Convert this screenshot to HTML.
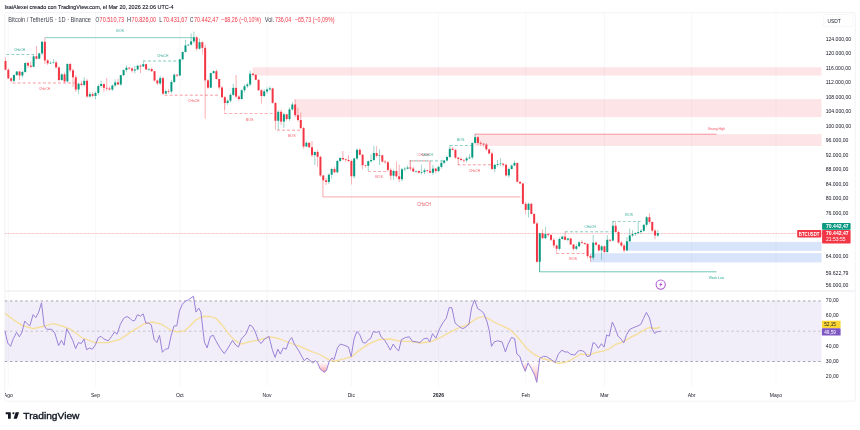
<!DOCTYPE html><html><head><meta charset="utf-8"><title>BTCUSDT chart</title><style>html,body{margin:0;padding:0;background:#fff;width:860px;height:430px;overflow:hidden}svg{display:block;filter:blur(0.25px)}text{font-family:"Liberation Sans",Arial,sans-serif}</style></head><body>
<svg width="860" height="430" viewBox="0 0 860 430">
<rect x="0" y="0" width="860" height="430" fill="#ffffff"/>
<rect x="4.75" y="12.6" width="850.6" height="388.6" fill="none" stroke="#eceef2" stroke-width="0.7" rx="1.5"/>
<line x1="8.31" y1="13" x2="8.31" y2="386" stroke="#f1f2f5" stroke-width="0.6"/>
<line x1="95.48" y1="13" x2="95.48" y2="386" stroke="#f1f2f5" stroke-width="0.6"/>
<line x1="179.84" y1="13" x2="179.84" y2="386" stroke="#f1f2f5" stroke-width="0.6"/>
<line x1="267.02" y1="13" x2="267.02" y2="386" stroke="#f1f2f5" stroke-width="0.6"/>
<line x1="351.38" y1="13" x2="351.38" y2="386" stroke="#f1f2f5" stroke-width="0.6"/>
<line x1="438.55" y1="13" x2="438.55" y2="386" stroke="#f1f2f5" stroke-width="0.6"/>
<line x1="525.72" y1="13" x2="525.72" y2="386" stroke="#f1f2f5" stroke-width="0.6"/>
<line x1="604.46" y1="13" x2="604.46" y2="386" stroke="#f1f2f5" stroke-width="0.6"/>
<line x1="691.63" y1="13" x2="691.63" y2="386" stroke="#f1f2f5" stroke-width="0.6"/>
<line x1="775.99" y1="13" x2="775.99" y2="386" stroke="#f1f2f5" stroke-width="0.6"/>
<line x1="5" y1="291" x2="855" y2="291" stroke="#f0f1f4" stroke-width="1.5"/>
<rect x="252.5" y="67.3" width="569" height="8.3" fill="#f23645" fill-opacity="0.135"/>
<rect x="294.8" y="99.1" width="526.7" height="18" fill="#f23645" fill-opacity="0.135"/>
<rect x="474.5" y="134.2" width="347" height="11.8" fill="#f23645" fill-opacity="0.135"/>
<rect x="627.7" y="241.9" width="193.8" height="8.9" fill="#296ee6" fill-opacity="0.19"/>
<rect x="590.3" y="253.2" width="231.2" height="9.2" fill="#296ee6" fill-opacity="0.19"/>
<line x1="5" y1="233.5" x2="821.5" y2="233.5" stroke="#f23645" stroke-width="0.5" stroke-dasharray="0.8 0.8" opacity="0.8"/>
<line x1="44.7" y1="37.7" x2="193.5" y2="37.7" stroke="#089981" stroke-width="0.8" opacity="0.6"/>
<line x1="6.3" y1="54.6" x2="33.5" y2="54.6" stroke="#089981" stroke-width="0.6" stroke-dasharray="2.9 2.15" stroke-dashoffset="0" opacity="0.85"/>
<line x1="143" y1="61" x2="182" y2="61" stroke="#089981" stroke-width="0.6" stroke-dasharray="2.9 2.15" stroke-dashoffset="0" opacity="0.85"/>
<line x1="12.6" y1="83" x2="76.4" y2="83" stroke="#f23645" stroke-width="0.6" stroke-dasharray="2.9 2.15" stroke-dashoffset="0" opacity="0.85"/>
<line x1="164.6" y1="95.2" x2="219.9" y2="95.2" stroke="#f23645" stroke-width="0.6" stroke-dasharray="2.9 2.15" stroke-dashoffset="0" opacity="0.85"/>
<line x1="224.3" y1="113.3" x2="273.6" y2="113.3" stroke="#f23645" stroke-width="0.6" stroke-dasharray="2.9 2.15" stroke-dashoffset="0" opacity="0.85"/>
<line x1="224.3" y1="103" x2="224.3" y2="113.3" stroke="#f23645" stroke-width="0.5" opacity="0.5"/>
<line x1="277" y1="130.2" x2="300" y2="130.2" stroke="#f23645" stroke-width="0.6" stroke-dasharray="2.9 2.15" stroke-dashoffset="0" opacity="0.85"/>
<line x1="322.9" y1="196.9" x2="520.5" y2="196.9" stroke="#f23645" stroke-width="0.7" opacity="0.6"/>
<line x1="322.9" y1="181" x2="322.9" y2="196.9" stroke="#f23645" stroke-width="0.7" opacity="0.6"/>
<line x1="368" y1="171.3" x2="386" y2="171.3" stroke="#f23645" stroke-width="0.6" stroke-dasharray="2.9 2.15" stroke-dashoffset="0" opacity="0.85"/>
<line x1="409.8" y1="160.9" x2="444" y2="160.9" stroke="#089981" stroke-width="0.6" stroke-dasharray="2.9 2.15" stroke-dashoffset="0" opacity="0.85"/>
<line x1="409.8" y1="160.9" x2="429.3" y2="160.9" stroke="#f23645" stroke-width="0.6" stroke-dasharray="2.9 2.15" stroke-dashoffset="2.5" opacity="0.85"/>
<line x1="409.8" y1="160.9" x2="409.8" y2="168" stroke="#f23645" stroke-width="0.5" opacity="0.5"/>
<line x1="429.3" y1="160.9" x2="429.3" y2="171.7" stroke="#f23645" stroke-width="0.5" opacity="0.5"/>
<line x1="449.8" y1="145.6" x2="471" y2="145.6" stroke="#089981" stroke-width="0.6" stroke-dasharray="2.9 2.15" stroke-dashoffset="0" opacity="0.85"/>
<line x1="457.7" y1="164.8" x2="492.6" y2="164.8" stroke="#f23645" stroke-width="0.6" stroke-dasharray="2.9 2.15" stroke-dashoffset="0" opacity="0.85"/>
<line x1="474.5" y1="134.2" x2="716.6" y2="134.2" stroke="#f23645" stroke-width="0.7" opacity="0.7"/>
<line x1="556.4" y1="253.4" x2="585.4" y2="253.4" stroke="#f23645" stroke-width="0.6" stroke-dasharray="2.9 2.15" stroke-dashoffset="0" opacity="0.85"/>
<line x1="556.4" y1="250" x2="556.4" y2="253.4" stroke="#f23645" stroke-width="0.5" opacity="0.5"/>
<line x1="565" y1="231.8" x2="611.4" y2="231.8" stroke="#089981" stroke-width="0.6" stroke-dasharray="2.9 2.15" stroke-dashoffset="0" opacity="0.85"/>
<line x1="612.8" y1="221.3" x2="640.6" y2="221.3" stroke="#089981" stroke-width="0.6" stroke-dasharray="2.9 2.15" stroke-dashoffset="0" opacity="0.85"/>
<line x1="612.8" y1="221.3" x2="612.8" y2="223" stroke="#089981" stroke-width="0.5" opacity="0.5"/>
<line x1="539.4" y1="271.8" x2="716.6" y2="271.8" stroke="#089981" stroke-width="0.7" opacity="0.8"/>
<line x1="539.4" y1="262" x2="539.4" y2="271.8" stroke="#089981" stroke-width="0.7" opacity="0.8"/>
<line x1="5.5" y1="57.5" x2="5.5" y2="70.29" stroke="#f23645" stroke-width="0.55" opacity="0.75"/>
<rect x="4.5" y="61" width="2" height="8.7" fill="#f23645"/>
<line x1="8.31" y1="68.16" x2="8.31" y2="78.84" stroke="#f23645" stroke-width="0.55" opacity="0.75"/>
<rect x="7.31" y="69.7" width="2" height="8.7" fill="#f23645"/>
<line x1="11.12" y1="77.08" x2="11.12" y2="82.5" stroke="#f23645" stroke-width="0.55" opacity="0.75"/>
<rect x="10.12" y="78.4" width="2" height="2.4" fill="#f23645"/>
<line x1="13.94" y1="74.59" x2="13.94" y2="82.06" stroke="#089981" stroke-width="0.55" opacity="0.75"/>
<rect x="12.94" y="75" width="2" height="5.8" fill="#089981"/>
<line x1="16.75" y1="71.13" x2="16.75" y2="76.12" stroke="#089981" stroke-width="0.55" opacity="0.75"/>
<rect x="15.75" y="71.5" width="2" height="3.5" fill="#089981"/>
<line x1="19.56" y1="71.07" x2="19.56" y2="80" stroke="#f23645" stroke-width="0.55" opacity="0.75"/>
<rect x="18.56" y="71.5" width="2" height="4" fill="#f23645"/>
<line x1="22.37" y1="70.89" x2="22.37" y2="77.37" stroke="#089981" stroke-width="0.55" opacity="0.75"/>
<rect x="21.37" y="72" width="2" height="3.5" fill="#089981"/>
<line x1="25.18" y1="62.46" x2="25.18" y2="72.72" stroke="#089981" stroke-width="0.55" opacity="0.75"/>
<rect x="24.18" y="63" width="2" height="9" fill="#089981"/>
<line x1="28" y1="61.51" x2="28" y2="67.7" stroke="#f23645" stroke-width="0.55" opacity="0.75"/>
<rect x="27" y="63" width="2" height="2.6" fill="#f23645"/>
<line x1="30.81" y1="61.6" x2="30.81" y2="67.85" stroke="#f23645" stroke-width="0.55" opacity="0.75"/>
<rect x="29.81" y="65.6" width="2" height="1.2" fill="#f23645"/>
<line x1="33.62" y1="54.15" x2="33.62" y2="67.19" stroke="#089981" stroke-width="0.55" opacity="0.75"/>
<rect x="32.62" y="56.3" width="2" height="10.5" fill="#089981"/>
<line x1="36.43" y1="45.9" x2="36.43" y2="59.55" stroke="#f23645" stroke-width="0.55" opacity="0.75"/>
<rect x="35.43" y="56.3" width="2" height="2.4" fill="#f23645"/>
<line x1="39.24" y1="52.83" x2="39.24" y2="59.22" stroke="#089981" stroke-width="0.55" opacity="0.75"/>
<rect x="38.24" y="53.4" width="2" height="5.3" fill="#089981"/>
<line x1="42.06" y1="40.91" x2="42.06" y2="55.25" stroke="#089981" stroke-width="0.55" opacity="0.75"/>
<rect x="41.06" y="41.8" width="2" height="11.6" fill="#089981"/>
<line x1="44.87" y1="37.7" x2="44.87" y2="64" stroke="#f23645" stroke-width="0.55" opacity="0.75"/>
<rect x="43.87" y="41.8" width="2" height="18.6" fill="#f23645"/>
<line x1="47.68" y1="58.89" x2="47.68" y2="65" stroke="#f23645" stroke-width="0.55" opacity="0.75"/>
<rect x="46.68" y="60.4" width="2" height="2.9" fill="#f23645"/>
<line x1="50.49" y1="61.51" x2="50.49" y2="63.87" stroke="#089981" stroke-width="0.55" opacity="0.75"/>
<rect x="49.49" y="62.85" width="2" height="0.6" fill="#089981"/>
<line x1="53.3" y1="59" x2="53.3" y2="63.69" stroke="#089981" stroke-width="0.55" opacity="0.75"/>
<rect x="52.3" y="62.5" width="2" height="0.5" fill="#089981"/>
<line x1="56.12" y1="60.91" x2="56.12" y2="68.51" stroke="#f23645" stroke-width="0.55" opacity="0.75"/>
<rect x="55.12" y="62.5" width="2" height="4.9" fill="#f23645"/>
<line x1="58.93" y1="66.5" x2="58.93" y2="81.41" stroke="#f23645" stroke-width="0.55" opacity="0.75"/>
<rect x="57.93" y="67.4" width="2" height="12.6" fill="#f23645"/>
<line x1="61.74" y1="73.24" x2="61.74" y2="80.87" stroke="#089981" stroke-width="0.55" opacity="0.75"/>
<rect x="60.74" y="74.4" width="2" height="5.6" fill="#089981"/>
<line x1="64.55" y1="72.59" x2="64.55" y2="83.03" stroke="#f23645" stroke-width="0.55" opacity="0.75"/>
<rect x="63.55" y="74.4" width="2" height="7" fill="#f23645"/>
<line x1="67.36" y1="63.24" x2="67.36" y2="82.79" stroke="#089981" stroke-width="0.55" opacity="0.75"/>
<rect x="66.36" y="64" width="2" height="17.4" fill="#089981"/>
<line x1="70.18" y1="62.7" x2="70.18" y2="72.26" stroke="#f23645" stroke-width="0.55" opacity="0.75"/>
<rect x="69.18" y="64" width="2" height="6.3" fill="#f23645"/>
<line x1="72.99" y1="68.61" x2="72.99" y2="87" stroke="#f23645" stroke-width="0.55" opacity="0.75"/>
<rect x="71.99" y="70.3" width="2" height="7" fill="#f23645"/>
<line x1="75.8" y1="75.14" x2="75.8" y2="91.9" stroke="#f23645" stroke-width="0.55" opacity="0.75"/>
<rect x="74.8" y="77.3" width="2" height="12.2" fill="#f23645"/>
<line x1="78.61" y1="82.61" x2="78.61" y2="94" stroke="#089981" stroke-width="0.55" opacity="0.75"/>
<rect x="77.61" y="83.7" width="2" height="5.8" fill="#089981"/>
<line x1="81.42" y1="80.8" x2="81.42" y2="86.13" stroke="#f23645" stroke-width="0.55" opacity="0.75"/>
<rect x="80.42" y="83.7" width="2" height="1.2" fill="#f23645"/>
<line x1="84.24" y1="77.3" x2="84.24" y2="86.47" stroke="#089981" stroke-width="0.55" opacity="0.75"/>
<rect x="83.24" y="80.8" width="2" height="4.1" fill="#089981"/>
<line x1="87.05" y1="79.05" x2="87.05" y2="97.89" stroke="#f23645" stroke-width="0.55" opacity="0.75"/>
<rect x="86.05" y="80.8" width="2" height="15.7" fill="#f23645"/>
<line x1="89.86" y1="92.24" x2="89.86" y2="97.4" stroke="#089981" stroke-width="0.55" opacity="0.75"/>
<rect x="88.86" y="94.2" width="2" height="2.3" fill="#089981"/>
<line x1="92.67" y1="92" x2="92.67" y2="97.33" stroke="#f23645" stroke-width="0.55" opacity="0.75"/>
<rect x="91.67" y="94.2" width="2" height="1.7" fill="#f23645"/>
<line x1="95.48" y1="91.6" x2="95.48" y2="99.4" stroke="#089981" stroke-width="0.55" opacity="0.75"/>
<rect x="94.48" y="93" width="2" height="2.9" fill="#089981"/>
<line x1="98.3" y1="84.1" x2="98.3" y2="95.09" stroke="#089981" stroke-width="0.55" opacity="0.75"/>
<rect x="97.3" y="86" width="2" height="7" fill="#089981"/>
<line x1="101.11" y1="80.8" x2="101.11" y2="87.56" stroke="#089981" stroke-width="0.55" opacity="0.75"/>
<rect x="100.11" y="84" width="2" height="2" fill="#089981"/>
<line x1="103.92" y1="83.58" x2="103.92" y2="91.9" stroke="#f23645" stroke-width="0.55" opacity="0.75"/>
<rect x="102.92" y="84" width="2" height="3.8" fill="#f23645"/>
<line x1="106.73" y1="77.9" x2="106.73" y2="90.69" stroke="#f23645" stroke-width="0.55" opacity="0.75"/>
<rect x="105.73" y="87.8" width="2" height="0.7" fill="#f23645"/>
<line x1="109.54" y1="86.64" x2="109.54" y2="90.34" stroke="#f23645" stroke-width="0.55" opacity="0.75"/>
<rect x="108.54" y="88.5" width="2" height="1" fill="#f23645"/>
<line x1="112.36" y1="84.47" x2="112.36" y2="91.07" stroke="#089981" stroke-width="0.55" opacity="0.75"/>
<rect x="111.36" y="85.5" width="2" height="4" fill="#089981"/>
<line x1="115.17" y1="79.3" x2="115.17" y2="86.68" stroke="#089981" stroke-width="0.55" opacity="0.75"/>
<rect x="114.17" y="82.4" width="2" height="3.1" fill="#089981"/>
<line x1="117.98" y1="78.7" x2="117.98" y2="85.02" stroke="#f23645" stroke-width="0.55" opacity="0.75"/>
<rect x="116.98" y="82.4" width="2" height="2.1" fill="#f23645"/>
<line x1="120.79" y1="74.79" x2="120.79" y2="85.7" stroke="#089981" stroke-width="0.55" opacity="0.75"/>
<rect x="119.79" y="75.2" width="2" height="9.3" fill="#089981"/>
<line x1="123.6" y1="69.45" x2="123.6" y2="75.97" stroke="#089981" stroke-width="0.55" opacity="0.75"/>
<rect x="122.6" y="70" width="2" height="5.2" fill="#089981"/>
<line x1="126.42" y1="65.3" x2="126.42" y2="71.96" stroke="#089981" stroke-width="0.55" opacity="0.75"/>
<rect x="125.42" y="67.7" width="2" height="2.3" fill="#089981"/>
<line x1="129.23" y1="67.25" x2="129.23" y2="69.65" stroke="#f23645" stroke-width="0.55" opacity="0.75"/>
<rect x="128.23" y="67.7" width="2" height="0.8" fill="#f23645"/>
<line x1="132.04" y1="67.16" x2="132.04" y2="72.58" stroke="#f23645" stroke-width="0.55" opacity="0.75"/>
<rect x="131.04" y="68.5" width="2" height="2.1" fill="#f23645"/>
<line x1="134.85" y1="66" x2="134.85" y2="73.5" stroke="#089981" stroke-width="0.55" opacity="0.75"/>
<rect x="133.85" y="69.5" width="2" height="1.1" fill="#089981"/>
<line x1="137.66" y1="64.87" x2="137.66" y2="70.59" stroke="#089981" stroke-width="0.55" opacity="0.75"/>
<rect x="136.66" y="65.7" width="2" height="3.8" fill="#089981"/>
<line x1="140.48" y1="64.72" x2="140.48" y2="73" stroke="#f23645" stroke-width="0.55" opacity="0.75"/>
<rect x="139.48" y="65.7" width="2" height="0.8" fill="#f23645"/>
<line x1="143.29" y1="61.3" x2="143.29" y2="67.09" stroke="#089981" stroke-width="0.55" opacity="0.75"/>
<rect x="142.29" y="64.2" width="2" height="2.3" fill="#089981"/>
<line x1="146.1" y1="63.57" x2="146.1" y2="70.14" stroke="#f23645" stroke-width="0.55" opacity="0.75"/>
<rect x="145.1" y="64.2" width="2" height="5.2" fill="#f23645"/>
<line x1="148.91" y1="68.16" x2="148.91" y2="70.72" stroke="#089981" stroke-width="0.55" opacity="0.75"/>
<rect x="147.91" y="68.9" width="2" height="0.6" fill="#089981"/>
<line x1="151.72" y1="67.58" x2="151.72" y2="72" stroke="#f23645" stroke-width="0.55" opacity="0.75"/>
<rect x="150.72" y="69" width="2" height="2.2" fill="#f23645"/>
<line x1="154.54" y1="70.89" x2="154.54" y2="81.6" stroke="#f23645" stroke-width="0.55" opacity="0.75"/>
<rect x="153.54" y="71.2" width="2" height="9.3" fill="#f23645"/>
<line x1="157.35" y1="79.5" x2="157.35" y2="84.78" stroke="#f23645" stroke-width="0.55" opacity="0.75"/>
<rect x="156.35" y="80.5" width="2" height="2.9" fill="#f23645"/>
<line x1="160.16" y1="75.8" x2="160.16" y2="85.01" stroke="#089981" stroke-width="0.55" opacity="0.75"/>
<rect x="159.16" y="78.1" width="2" height="5.3" fill="#089981"/>
<line x1="162.97" y1="76.82" x2="162.97" y2="95.07" stroke="#f23645" stroke-width="0.55" opacity="0.75"/>
<rect x="161.97" y="78.1" width="2" height="15.5" fill="#f23645"/>
<line x1="165.78" y1="89.62" x2="165.78" y2="94" stroke="#089981" stroke-width="0.55" opacity="0.75"/>
<rect x="164.78" y="91.2" width="2" height="2.4" fill="#089981"/>
<line x1="168.6" y1="89.04" x2="168.6" y2="93.43" stroke="#f23645" stroke-width="0.55" opacity="0.75"/>
<rect x="167.6" y="91.05" width="2" height="0.6" fill="#f23645"/>
<line x1="171.41" y1="80.04" x2="171.41" y2="93.32" stroke="#089981" stroke-width="0.55" opacity="0.75"/>
<rect x="170.41" y="82" width="2" height="9.5" fill="#089981"/>
<line x1="174.22" y1="73.65" x2="174.22" y2="83.06" stroke="#089981" stroke-width="0.55" opacity="0.75"/>
<rect x="173.22" y="74.7" width="2" height="7.3" fill="#089981"/>
<line x1="177.03" y1="74.2" x2="177.03" y2="77.01" stroke="#f23645" stroke-width="0.55" opacity="0.75"/>
<rect x="176.03" y="74.7" width="2" height="0.8" fill="#f23645"/>
<line x1="179.84" y1="58.88" x2="179.84" y2="75.93" stroke="#089981" stroke-width="0.55" opacity="0.75"/>
<rect x="178.84" y="59.3" width="2" height="16.2" fill="#089981"/>
<line x1="182.66" y1="51.3" x2="182.66" y2="59.91" stroke="#089981" stroke-width="0.55" opacity="0.75"/>
<rect x="181.66" y="52" width="2" height="7.3" fill="#089981"/>
<line x1="185.47" y1="39.8" x2="185.47" y2="52.4" stroke="#089981" stroke-width="0.55" opacity="0.75"/>
<rect x="184.47" y="45.4" width="2" height="6.6" fill="#089981"/>
<line x1="188.28" y1="44.3" x2="188.28" y2="45.99" stroke="#089981" stroke-width="0.55" opacity="0.75"/>
<rect x="187.28" y="44.6" width="2" height="0.8" fill="#089981"/>
<line x1="191.09" y1="33.3" x2="191.09" y2="45.59" stroke="#089981" stroke-width="0.55" opacity="0.75"/>
<rect x="190.09" y="41.4" width="2" height="3.2" fill="#089981"/>
<line x1="193.9" y1="31.6" x2="193.9" y2="43.36" stroke="#089981" stroke-width="0.55" opacity="0.75"/>
<rect x="192.9" y="37.3" width="2" height="4.1" fill="#089981"/>
<line x1="196.72" y1="35.83" x2="196.72" y2="51" stroke="#f23645" stroke-width="0.55" opacity="0.75"/>
<rect x="195.72" y="37.3" width="2" height="11.4" fill="#f23645"/>
<line x1="199.53" y1="38.5" x2="199.53" y2="49.6" stroke="#089981" stroke-width="0.55" opacity="0.75"/>
<rect x="198.53" y="42.2" width="2" height="6.5" fill="#089981"/>
<line x1="202.34" y1="41.21" x2="202.34" y2="54.5" stroke="#f23645" stroke-width="0.55" opacity="0.75"/>
<rect x="201.34" y="42.2" width="2" height="5.7" fill="#f23645"/>
<line x1="205.15" y1="44.7" x2="205.15" y2="118.6" stroke="#f23645" stroke-width="0.55" opacity="0.75"/>
<rect x="204.15" y="47.9" width="2" height="32.5" fill="#f23645"/>
<line x1="207.96" y1="79.21" x2="207.96" y2="88.92" stroke="#f23645" stroke-width="0.55" opacity="0.75"/>
<rect x="206.96" y="80.4" width="2" height="7.3" fill="#f23645"/>
<line x1="210.78" y1="72.64" x2="210.78" y2="88.19" stroke="#089981" stroke-width="0.55" opacity="0.75"/>
<rect x="209.78" y="73.1" width="2" height="14.6" fill="#089981"/>
<line x1="213.59" y1="70.25" x2="213.59" y2="73.9" stroke="#089981" stroke-width="0.55" opacity="0.75"/>
<rect x="212.59" y="71.2" width="2" height="1.9" fill="#089981"/>
<line x1="216.4" y1="69.33" x2="216.4" y2="79.61" stroke="#f23645" stroke-width="0.55" opacity="0.75"/>
<rect x="215.4" y="71.2" width="2" height="7.8" fill="#f23645"/>
<line x1="219.21" y1="78.66" x2="219.21" y2="89.61" stroke="#f23645" stroke-width="0.55" opacity="0.75"/>
<rect x="218.21" y="79" width="2" height="8.5" fill="#f23645"/>
<line x1="222.02" y1="86.2" x2="222.02" y2="97.78" stroke="#f23645" stroke-width="0.55" opacity="0.75"/>
<rect x="221.02" y="87.5" width="2" height="9.7" fill="#f23645"/>
<line x1="224.84" y1="95.87" x2="224.84" y2="110" stroke="#f23645" stroke-width="0.55" opacity="0.75"/>
<rect x="223.84" y="97.2" width="2" height="5.8" fill="#f23645"/>
<line x1="227.65" y1="99.4" x2="227.65" y2="105.16" stroke="#089981" stroke-width="0.55" opacity="0.75"/>
<rect x="226.65" y="100.7" width="2" height="2.3" fill="#089981"/>
<line x1="230.46" y1="92.96" x2="230.46" y2="102.32" stroke="#089981" stroke-width="0.55" opacity="0.75"/>
<rect x="229.46" y="94.9" width="2" height="5.8" fill="#089981"/>
<line x1="233.27" y1="83.8" x2="233.27" y2="95.9" stroke="#089981" stroke-width="0.55" opacity="0.75"/>
<rect x="232.27" y="87.9" width="2" height="7" fill="#089981"/>
<line x1="236.08" y1="75" x2="236.08" y2="98.37" stroke="#f23645" stroke-width="0.55" opacity="0.75"/>
<rect x="235.08" y="87.9" width="2" height="8.7" fill="#f23645"/>
<line x1="238.9" y1="95.29" x2="238.9" y2="100.78" stroke="#f23645" stroke-width="0.55" opacity="0.75"/>
<rect x="237.9" y="96.6" width="2" height="2.4" fill="#f23645"/>
<line x1="241.71" y1="89.27" x2="241.71" y2="99.72" stroke="#089981" stroke-width="0.55" opacity="0.75"/>
<rect x="240.71" y="90.2" width="2" height="8.8" fill="#089981"/>
<line x1="244.52" y1="84.36" x2="244.52" y2="92.37" stroke="#089981" stroke-width="0.55" opacity="0.75"/>
<rect x="243.52" y="86.2" width="2" height="4" fill="#089981"/>
<line x1="247.33" y1="82.48" x2="247.33" y2="88.03" stroke="#089981" stroke-width="0.55" opacity="0.75"/>
<rect x="246.33" y="84.4" width="2" height="1.8" fill="#089981"/>
<line x1="250.14" y1="70.5" x2="250.14" y2="86.11" stroke="#089981" stroke-width="0.55" opacity="0.75"/>
<rect x="249.14" y="73.7" width="2" height="10.7" fill="#089981"/>
<line x1="252.96" y1="72.97" x2="252.96" y2="76.18" stroke="#f23645" stroke-width="0.55" opacity="0.75"/>
<rect x="251.96" y="73.7" width="2" height="1.2" fill="#f23645"/>
<line x1="255.77" y1="73.92" x2="255.77" y2="80.16" stroke="#f23645" stroke-width="0.55" opacity="0.75"/>
<rect x="254.77" y="74.9" width="2" height="4.9" fill="#f23645"/>
<line x1="258.58" y1="79.45" x2="258.58" y2="91.03" stroke="#f23645" stroke-width="0.55" opacity="0.75"/>
<rect x="257.58" y="79.8" width="2" height="10.4" fill="#f23645"/>
<line x1="261.39" y1="89.41" x2="261.39" y2="103.6" stroke="#f23645" stroke-width="0.55" opacity="0.75"/>
<rect x="260.39" y="90.2" width="2" height="5.8" fill="#f23645"/>
<line x1="264.2" y1="89.28" x2="264.2" y2="97.15" stroke="#089981" stroke-width="0.55" opacity="0.75"/>
<rect x="263.2" y="91.4" width="2" height="4.6" fill="#089981"/>
<line x1="267.02" y1="87.42" x2="267.02" y2="93.58" stroke="#089981" stroke-width="0.55" opacity="0.75"/>
<rect x="266.02" y="89.5" width="2" height="1.9" fill="#089981"/>
<line x1="269.83" y1="86.29" x2="269.83" y2="90.49" stroke="#089981" stroke-width="0.55" opacity="0.75"/>
<rect x="268.83" y="88.4" width="2" height="1.1" fill="#089981"/>
<line x1="272.64" y1="87.68" x2="272.64" y2="103.63" stroke="#f23645" stroke-width="0.55" opacity="0.75"/>
<rect x="271.64" y="88.4" width="2" height="14.5" fill="#f23645"/>
<line x1="275.45" y1="102.23" x2="275.45" y2="129.7" stroke="#f23645" stroke-width="0.55" opacity="0.75"/>
<rect x="274.45" y="102.9" width="2" height="17.9" fill="#f23645"/>
<line x1="278.26" y1="110.31" x2="278.26" y2="129.7" stroke="#089981" stroke-width="0.55" opacity="0.75"/>
<rect x="277.26" y="111.8" width="2" height="9" fill="#089981"/>
<line x1="281.08" y1="109.9" x2="281.08" y2="124.8" stroke="#f23645" stroke-width="0.55" opacity="0.75"/>
<rect x="280.08" y="111.8" width="2" height="9.8" fill="#f23645"/>
<line x1="283.89" y1="112.76" x2="283.89" y2="128" stroke="#089981" stroke-width="0.55" opacity="0.75"/>
<rect x="282.89" y="114.3" width="2" height="7.3" fill="#089981"/>
<line x1="286.7" y1="113.84" x2="286.7" y2="120.66" stroke="#f23645" stroke-width="0.55" opacity="0.75"/>
<rect x="285.7" y="114.3" width="2" height="4.8" fill="#f23645"/>
<line x1="289.51" y1="107.37" x2="289.51" y2="120.89" stroke="#089981" stroke-width="0.55" opacity="0.75"/>
<rect x="288.51" y="109.4" width="2" height="9.7" fill="#089981"/>
<line x1="292.32" y1="102" x2="292.32" y2="110.61" stroke="#089981" stroke-width="0.55" opacity="0.75"/>
<rect x="291.32" y="104.5" width="2" height="4.9" fill="#089981"/>
<line x1="295.14" y1="99.3" x2="295.14" y2="116.9" stroke="#f23645" stroke-width="0.55" opacity="0.75"/>
<rect x="294.14" y="104.5" width="2" height="10.6" fill="#f23645"/>
<line x1="297.95" y1="107.8" x2="297.95" y2="121.82" stroke="#f23645" stroke-width="0.55" opacity="0.75"/>
<rect x="296.95" y="115.1" width="2" height="4.9" fill="#f23645"/>
<line x1="300.76" y1="112.6" x2="300.76" y2="129.15" stroke="#f23645" stroke-width="0.55" opacity="0.75"/>
<rect x="299.76" y="120" width="2" height="8.1" fill="#f23645"/>
<line x1="303.57" y1="127.04" x2="303.57" y2="148.6" stroke="#f23645" stroke-width="0.55" opacity="0.75"/>
<rect x="302.57" y="128.1" width="2" height="18.4" fill="#f23645"/>
<line x1="306.38" y1="141.12" x2="306.38" y2="147.12" stroke="#089981" stroke-width="0.55" opacity="0.75"/>
<rect x="305.38" y="142.8" width="2" height="3.7" fill="#089981"/>
<line x1="309.2" y1="142.26" x2="309.2" y2="147.89" stroke="#f23645" stroke-width="0.55" opacity="0.75"/>
<rect x="308.2" y="142.8" width="2" height="4.5" fill="#f23645"/>
<line x1="312.01" y1="141" x2="312.01" y2="156.93" stroke="#f23645" stroke-width="0.55" opacity="0.75"/>
<rect x="311.01" y="147.3" width="2" height="7.8" fill="#f23645"/>
<line x1="314.82" y1="151.42" x2="314.82" y2="165" stroke="#089981" stroke-width="0.55" opacity="0.75"/>
<rect x="313.82" y="152" width="2" height="3.1" fill="#089981"/>
<line x1="317.63" y1="149.84" x2="317.63" y2="167" stroke="#f23645" stroke-width="0.55" opacity="0.75"/>
<rect x="316.63" y="152" width="2" height="4.8" fill="#f23645"/>
<line x1="320.44" y1="155.83" x2="320.44" y2="176.84" stroke="#f23645" stroke-width="0.55" opacity="0.75"/>
<rect x="319.44" y="156.8" width="2" height="18.7" fill="#f23645"/>
<line x1="323.26" y1="174.95" x2="323.26" y2="180.73" stroke="#f23645" stroke-width="0.55" opacity="0.75"/>
<rect x="322.26" y="175.5" width="2" height="4.9" fill="#f23645"/>
<line x1="326.07" y1="178.26" x2="326.07" y2="185" stroke="#f23645" stroke-width="0.55" opacity="0.75"/>
<rect x="325.07" y="180.4" width="2" height="1.6" fill="#f23645"/>
<line x1="328.88" y1="173.4" x2="328.88" y2="184.07" stroke="#089981" stroke-width="0.55" opacity="0.75"/>
<rect x="327.88" y="174.7" width="2" height="7.3" fill="#089981"/>
<line x1="331.69" y1="167.88" x2="331.69" y2="178.8" stroke="#089981" stroke-width="0.55" opacity="0.75"/>
<rect x="330.69" y="169" width="2" height="5.7" fill="#089981"/>
<line x1="334.5" y1="167.13" x2="334.5" y2="173" stroke="#f23645" stroke-width="0.55" opacity="0.75"/>
<rect x="333.5" y="169" width="2" height="3.3" fill="#f23645"/>
<line x1="337.32" y1="160.12" x2="337.32" y2="173.16" stroke="#089981" stroke-width="0.55" opacity="0.75"/>
<rect x="336.32" y="160.9" width="2" height="11.4" fill="#089981"/>
<line x1="340.13" y1="157.24" x2="340.13" y2="162.31" stroke="#089981" stroke-width="0.55" opacity="0.75"/>
<rect x="339.13" y="158" width="2" height="2.9" fill="#089981"/>
<line x1="342.94" y1="151" x2="342.94" y2="160.4" stroke="#f23645" stroke-width="0.55" opacity="0.75"/>
<rect x="341.94" y="158" width="2" height="1.3" fill="#f23645"/>
<line x1="345.75" y1="158.75" x2="345.75" y2="162.03" stroke="#f23645" stroke-width="0.55" opacity="0.75"/>
<rect x="344.75" y="159.3" width="2" height="0.7" fill="#f23645"/>
<line x1="348.56" y1="155" x2="348.56" y2="162.17" stroke="#f23645" stroke-width="0.55" opacity="0.75"/>
<rect x="347.56" y="160" width="2" height="1" fill="#f23645"/>
<line x1="351.38" y1="159.59" x2="351.38" y2="184.5" stroke="#f23645" stroke-width="0.55" opacity="0.75"/>
<rect x="350.38" y="161" width="2" height="15.3" fill="#f23645"/>
<line x1="354.19" y1="157.4" x2="354.19" y2="178.34" stroke="#089981" stroke-width="0.55" opacity="0.75"/>
<rect x="353.19" y="158.5" width="2" height="17.8" fill="#089981"/>
<line x1="357" y1="148.55" x2="357" y2="159.81" stroke="#089981" stroke-width="0.55" opacity="0.75"/>
<rect x="356" y="149.8" width="2" height="8.7" fill="#089981"/>
<line x1="359.81" y1="148.51" x2="359.81" y2="155.14" stroke="#f23645" stroke-width="0.55" opacity="0.75"/>
<rect x="358.81" y="149.8" width="2" height="5" fill="#f23645"/>
<line x1="362.62" y1="153.66" x2="362.62" y2="169.3" stroke="#f23645" stroke-width="0.55" opacity="0.75"/>
<rect x="361.62" y="154.8" width="2" height="10.4" fill="#f23645"/>
<line x1="365.44" y1="164.89" x2="365.44" y2="167.62" stroke="#f23645" stroke-width="0.55" opacity="0.75"/>
<rect x="364.44" y="165.2" width="2" height="0.6" fill="#f23645"/>
<line x1="368.25" y1="160.57" x2="368.25" y2="171" stroke="#089981" stroke-width="0.55" opacity="0.75"/>
<rect x="367.25" y="161.2" width="2" height="4.6" fill="#089981"/>
<line x1="371.06" y1="154.2" x2="371.06" y2="162.56" stroke="#089981" stroke-width="0.55" opacity="0.75"/>
<rect x="370.06" y="160" width="2" height="1.2" fill="#089981"/>
<line x1="373.87" y1="146" x2="373.87" y2="161.28" stroke="#089981" stroke-width="0.55" opacity="0.75"/>
<rect x="372.87" y="153" width="2" height="7" fill="#089981"/>
<line x1="376.68" y1="146" x2="376.68" y2="157.69" stroke="#f23645" stroke-width="0.55" opacity="0.75"/>
<rect x="375.68" y="153" width="2" height="2.9" fill="#f23645"/>
<line x1="379.5" y1="149.5" x2="379.5" y2="165.2" stroke="#089981" stroke-width="0.55" opacity="0.75"/>
<rect x="378.5" y="155.3" width="2" height="0.6" fill="#089981"/>
<line x1="382.31" y1="154.53" x2="382.31" y2="162.53" stroke="#f23645" stroke-width="0.55" opacity="0.75"/>
<rect x="381.31" y="155.3" width="2" height="6.4" fill="#f23645"/>
<line x1="385.12" y1="159.93" x2="385.12" y2="163.56" stroke="#f23645" stroke-width="0.55" opacity="0.75"/>
<rect x="384.12" y="161.7" width="2" height="0.6" fill="#f23645"/>
<line x1="387.93" y1="160.93" x2="387.93" y2="171.64" stroke="#f23645" stroke-width="0.55" opacity="0.75"/>
<rect x="386.93" y="162.3" width="2" height="7.6" fill="#f23645"/>
<line x1="390.74" y1="167.87" x2="390.74" y2="179.8" stroke="#f23645" stroke-width="0.55" opacity="0.75"/>
<rect x="389.74" y="169.9" width="2" height="5.8" fill="#f23645"/>
<line x1="393.56" y1="169.54" x2="393.56" y2="179.8" stroke="#089981" stroke-width="0.55" opacity="0.75"/>
<rect x="392.56" y="171" width="2" height="4.7" fill="#089981"/>
<line x1="396.37" y1="161.2" x2="396.37" y2="177.92" stroke="#f23645" stroke-width="0.55" opacity="0.75"/>
<rect x="395.37" y="171" width="2" height="5.3" fill="#f23645"/>
<line x1="399.18" y1="164.7" x2="399.18" y2="182" stroke="#f23645" stroke-width="0.55" opacity="0.75"/>
<rect x="398.18" y="176.3" width="2" height="2.9" fill="#f23645"/>
<line x1="401.99" y1="168.09" x2="401.99" y2="181.29" stroke="#089981" stroke-width="0.55" opacity="0.75"/>
<rect x="400.99" y="169.3" width="2" height="9.9" fill="#089981"/>
<line x1="404.8" y1="167.07" x2="404.8" y2="171.27" stroke="#089981" stroke-width="0.55" opacity="0.75"/>
<rect x="403.8" y="168.7" width="2" height="0.6" fill="#089981"/>
<line x1="407.62" y1="165.41" x2="407.62" y2="169.49" stroke="#089981" stroke-width="0.55" opacity="0.75"/>
<rect x="406.62" y="167.5" width="2" height="1.2" fill="#089981"/>
<line x1="410.43" y1="160" x2="410.43" y2="170.69" stroke="#f23645" stroke-width="0.55" opacity="0.75"/>
<rect x="409.43" y="167.5" width="2" height="1.1" fill="#f23645"/>
<line x1="413.24" y1="166.7" x2="413.24" y2="172.06" stroke="#f23645" stroke-width="0.55" opacity="0.75"/>
<rect x="412.24" y="168.6" width="2" height="2.9" fill="#f23645"/>
<line x1="416.05" y1="170.47" x2="416.05" y2="172.64" stroke="#089981" stroke-width="0.55" opacity="0.75"/>
<rect x="415.05" y="171" width="2" height="0.5" fill="#089981"/>
<line x1="418.86" y1="170.56" x2="418.86" y2="173.46" stroke="#f23645" stroke-width="0.55" opacity="0.75"/>
<rect x="417.86" y="171" width="2" height="1.7" fill="#f23645"/>
<line x1="421.68" y1="164.5" x2="421.68" y2="174.27" stroke="#089981" stroke-width="0.55" opacity="0.75"/>
<rect x="420.68" y="172" width="2" height="0.7" fill="#089981"/>
<line x1="424.49" y1="168.51" x2="424.49" y2="174" stroke="#089981" stroke-width="0.55" opacity="0.75"/>
<rect x="423.49" y="170.3" width="2" height="1.7" fill="#089981"/>
<line x1="427.3" y1="169.71" x2="427.3" y2="172.66" stroke="#f23645" stroke-width="0.55" opacity="0.75"/>
<rect x="426.3" y="170.3" width="2" height="0.7" fill="#f23645"/>
<line x1="430.11" y1="161" x2="430.11" y2="173.27" stroke="#f23645" stroke-width="0.55" opacity="0.75"/>
<rect x="429.11" y="171" width="2" height="1.7" fill="#f23645"/>
<line x1="432.92" y1="165" x2="432.92" y2="174.84" stroke="#089981" stroke-width="0.55" opacity="0.75"/>
<rect x="431.92" y="168.6" width="2" height="4.1" fill="#089981"/>
<line x1="435.74" y1="167.88" x2="435.74" y2="173.11" stroke="#f23645" stroke-width="0.55" opacity="0.75"/>
<rect x="434.74" y="168.6" width="2" height="2.4" fill="#f23645"/>
<line x1="438.55" y1="165.84" x2="438.55" y2="172.23" stroke="#089981" stroke-width="0.55" opacity="0.75"/>
<rect x="437.55" y="166.9" width="2" height="4.1" fill="#089981"/>
<line x1="441.36" y1="160.62" x2="441.36" y2="168.78" stroke="#089981" stroke-width="0.55" opacity="0.75"/>
<rect x="440.36" y="162.8" width="2" height="4.1" fill="#089981"/>
<line x1="444.17" y1="159.89" x2="444.17" y2="163.92" stroke="#089981" stroke-width="0.55" opacity="0.75"/>
<rect x="443.17" y="160.5" width="2" height="2.3" fill="#089981"/>
<line x1="446.98" y1="155.72" x2="446.98" y2="161.44" stroke="#089981" stroke-width="0.55" opacity="0.75"/>
<rect x="445.98" y="157" width="2" height="3.5" fill="#089981"/>
<line x1="449.8" y1="145.3" x2="449.8" y2="157.91" stroke="#089981" stroke-width="0.55" opacity="0.75"/>
<rect x="448.8" y="148.8" width="2" height="8.2" fill="#089981"/>
<line x1="452.61" y1="147.13" x2="452.61" y2="150.34" stroke="#f23645" stroke-width="0.55" opacity="0.75"/>
<rect x="451.61" y="148.8" width="2" height="1.2" fill="#f23645"/>
<line x1="455.42" y1="148.65" x2="455.42" y2="158.74" stroke="#f23645" stroke-width="0.55" opacity="0.75"/>
<rect x="454.42" y="150" width="2" height="7.6" fill="#f23645"/>
<line x1="458.23" y1="157.27" x2="458.23" y2="165" stroke="#f23645" stroke-width="0.55" opacity="0.75"/>
<rect x="457.23" y="157.6" width="2" height="1.3" fill="#f23645"/>
<line x1="461.04" y1="157.41" x2="461.04" y2="161.27" stroke="#f23645" stroke-width="0.55" opacity="0.75"/>
<rect x="460.04" y="158.9" width="2" height="1.1" fill="#f23645"/>
<line x1="463.86" y1="159.48" x2="463.86" y2="162.67" stroke="#f23645" stroke-width="0.55" opacity="0.75"/>
<rect x="462.86" y="159.9" width="2" height="0.6" fill="#f23645"/>
<line x1="466.67" y1="156.5" x2="466.67" y2="162.55" stroke="#089981" stroke-width="0.55" opacity="0.75"/>
<rect x="465.67" y="158.3" width="2" height="2.1" fill="#089981"/>
<line x1="469.48" y1="154.3" x2="469.48" y2="159.1" stroke="#089981" stroke-width="0.55" opacity="0.75"/>
<rect x="468.48" y="157.5" width="2" height="0.8" fill="#089981"/>
<line x1="472.29" y1="142.52" x2="472.29" y2="159.28" stroke="#089981" stroke-width="0.55" opacity="0.75"/>
<rect x="471.29" y="142.9" width="2" height="14.6" fill="#089981"/>
<line x1="475.1" y1="134" x2="475.1" y2="143.45" stroke="#089981" stroke-width="0.55" opacity="0.75"/>
<rect x="474.1" y="137.2" width="2" height="5.7" fill="#089981"/>
<line x1="477.92" y1="136.1" x2="477.92" y2="144.93" stroke="#f23645" stroke-width="0.55" opacity="0.75"/>
<rect x="476.92" y="137.2" width="2" height="5.7" fill="#f23645"/>
<line x1="480.73" y1="141.04" x2="480.73" y2="146" stroke="#f23645" stroke-width="0.55" opacity="0.75"/>
<rect x="479.73" y="142.9" width="2" height="0.8" fill="#f23645"/>
<line x1="483.54" y1="143.12" x2="483.54" y2="146.55" stroke="#f23645" stroke-width="0.55" opacity="0.75"/>
<rect x="482.54" y="143.7" width="2" height="0.8" fill="#f23645"/>
<line x1="486.35" y1="143.12" x2="486.35" y2="151.03" stroke="#f23645" stroke-width="0.55" opacity="0.75"/>
<rect x="485.35" y="144.5" width="2" height="4.9" fill="#f23645"/>
<line x1="489.16" y1="148.93" x2="489.16" y2="153.91" stroke="#f23645" stroke-width="0.55" opacity="0.75"/>
<rect x="488.16" y="149.4" width="2" height="4.1" fill="#f23645"/>
<line x1="491.98" y1="151.89" x2="491.98" y2="170.01" stroke="#f23645" stroke-width="0.55" opacity="0.75"/>
<rect x="490.98" y="153.5" width="2" height="15.4" fill="#f23645"/>
<line x1="494.79" y1="164.36" x2="494.79" y2="172" stroke="#089981" stroke-width="0.55" opacity="0.75"/>
<rect x="493.79" y="164.8" width="2" height="4.1" fill="#089981"/>
<line x1="497.6" y1="160" x2="497.6" y2="166.62" stroke="#089981" stroke-width="0.55" opacity="0.75"/>
<rect x="496.6" y="164" width="2" height="0.8" fill="#089981"/>
<line x1="500.41" y1="158.3" x2="500.41" y2="166.08" stroke="#089981" stroke-width="0.55" opacity="0.75"/>
<rect x="499.41" y="163.55" width="2" height="0.6" fill="#089981"/>
<line x1="503.22" y1="163.27" x2="503.22" y2="166.74" stroke="#f23645" stroke-width="0.55" opacity="0.75"/>
<rect x="502.22" y="163.7" width="2" height="1.1" fill="#f23645"/>
<line x1="506.04" y1="163.64" x2="506.04" y2="176.34" stroke="#f23645" stroke-width="0.55" opacity="0.75"/>
<rect x="505.04" y="164.8" width="2" height="10.6" fill="#f23645"/>
<line x1="508.85" y1="167.65" x2="508.85" y2="177.46" stroke="#089981" stroke-width="0.55" opacity="0.75"/>
<rect x="507.85" y="169" width="2" height="6.4" fill="#089981"/>
<line x1="511.66" y1="164.69" x2="511.66" y2="169.55" stroke="#089981" stroke-width="0.55" opacity="0.75"/>
<rect x="510.66" y="165.5" width="2" height="3.5" fill="#089981"/>
<line x1="514.47" y1="160.7" x2="514.47" y2="166.25" stroke="#089981" stroke-width="0.55" opacity="0.75"/>
<rect x="513.47" y="163" width="2" height="2.5" fill="#089981"/>
<line x1="517.28" y1="162.49" x2="517.28" y2="182.41" stroke="#f23645" stroke-width="0.55" opacity="0.75"/>
<rect x="516.28" y="163" width="2" height="18.8" fill="#f23645"/>
<line x1="520.1" y1="181.4" x2="520.1" y2="184.18" stroke="#f23645" stroke-width="0.55" opacity="0.75"/>
<rect x="519.1" y="181.8" width="2" height="1.7" fill="#f23645"/>
<line x1="522.91" y1="182.61" x2="522.91" y2="204.68" stroke="#f23645" stroke-width="0.55" opacity="0.75"/>
<rect x="521.91" y="183.5" width="2" height="20.3" fill="#f23645"/>
<line x1="525.72" y1="202.06" x2="525.72" y2="214.3" stroke="#f23645" stroke-width="0.55" opacity="0.75"/>
<rect x="524.72" y="203.8" width="2" height="6.1" fill="#f23645"/>
<line x1="528.53" y1="202.55" x2="528.53" y2="217.6" stroke="#089981" stroke-width="0.55" opacity="0.75"/>
<rect x="527.53" y="203.8" width="2" height="6.1" fill="#089981"/>
<line x1="531.34" y1="202.84" x2="531.34" y2="214.33" stroke="#f23645" stroke-width="0.55" opacity="0.75"/>
<rect x="530.34" y="203.8" width="2" height="10.2" fill="#f23645"/>
<line x1="534.16" y1="213.22" x2="534.16" y2="223.83" stroke="#f23645" stroke-width="0.55" opacity="0.75"/>
<rect x="533.16" y="214" width="2" height="9.5" fill="#f23645"/>
<line x1="536.97" y1="221.81" x2="536.97" y2="262.5" stroke="#f23645" stroke-width="0.55" opacity="0.75"/>
<rect x="535.97" y="223.5" width="2" height="38.3" fill="#f23645"/>
<line x1="539.78" y1="232.64" x2="539.78" y2="271.8" stroke="#089981" stroke-width="0.55" opacity="0.75"/>
<rect x="538.78" y="233.3" width="2" height="28.5" fill="#089981"/>
<line x1="542.59" y1="229.3" x2="542.59" y2="238.7" stroke="#f23645" stroke-width="0.55" opacity="0.75"/>
<rect x="541.59" y="233.3" width="2" height="4.9" fill="#f23645"/>
<line x1="545.4" y1="226.8" x2="545.4" y2="239.32" stroke="#089981" stroke-width="0.55" opacity="0.75"/>
<rect x="544.4" y="234.1" width="2" height="4.1" fill="#089981"/>
<line x1="548.22" y1="232.86" x2="548.22" y2="236.89" stroke="#f23645" stroke-width="0.55" opacity="0.75"/>
<rect x="547.22" y="234.1" width="2" height="0.9" fill="#f23645"/>
<line x1="551.03" y1="233.95" x2="551.03" y2="241.06" stroke="#f23645" stroke-width="0.55" opacity="0.75"/>
<rect x="550.03" y="235" width="2" height="4.8" fill="#f23645"/>
<line x1="553.84" y1="238.19" x2="553.84" y2="247.67" stroke="#f23645" stroke-width="0.55" opacity="0.75"/>
<rect x="552.84" y="239.8" width="2" height="5.7" fill="#f23645"/>
<line x1="556.65" y1="244.55" x2="556.65" y2="250.68" stroke="#f23645" stroke-width="0.55" opacity="0.75"/>
<rect x="555.65" y="245.5" width="2" height="3.3" fill="#f23645"/>
<line x1="559.46" y1="237.36" x2="559.46" y2="250.31" stroke="#089981" stroke-width="0.55" opacity="0.75"/>
<rect x="558.46" y="239" width="2" height="9.8" fill="#089981"/>
<line x1="562.28" y1="235.53" x2="562.28" y2="239.96" stroke="#089981" stroke-width="0.55" opacity="0.75"/>
<rect x="561.28" y="236.6" width="2" height="2.4" fill="#089981"/>
<line x1="565.09" y1="231.7" x2="565.09" y2="240.35" stroke="#f23645" stroke-width="0.55" opacity="0.75"/>
<rect x="564.09" y="236.6" width="2" height="3.2" fill="#f23645"/>
<line x1="567.9" y1="238.07" x2="567.9" y2="241.51" stroke="#089981" stroke-width="0.55" opacity="0.75"/>
<rect x="566.9" y="238.5" width="2" height="1.3" fill="#089981"/>
<line x1="570.71" y1="237.71" x2="570.71" y2="245.11" stroke="#f23645" stroke-width="0.55" opacity="0.75"/>
<rect x="569.71" y="238.5" width="2" height="6" fill="#f23645"/>
<line x1="573.52" y1="244.04" x2="573.52" y2="250.7" stroke="#f23645" stroke-width="0.55" opacity="0.75"/>
<rect x="572.52" y="244.5" width="2" height="4.3" fill="#f23645"/>
<line x1="576.34" y1="244.35" x2="576.34" y2="250.37" stroke="#089981" stroke-width="0.55" opacity="0.75"/>
<rect x="575.34" y="246.3" width="2" height="2.5" fill="#089981"/>
<line x1="579.15" y1="241.46" x2="579.15" y2="247.06" stroke="#089981" stroke-width="0.55" opacity="0.75"/>
<rect x="578.15" y="242.3" width="2" height="4" fill="#089981"/>
<line x1="581.96" y1="240.3" x2="581.96" y2="244.17" stroke="#f23645" stroke-width="0.55" opacity="0.75"/>
<rect x="580.96" y="242.3" width="2" height="0.7" fill="#f23645"/>
<line x1="584.77" y1="242.4" x2="584.77" y2="245.05" stroke="#f23645" stroke-width="0.55" opacity="0.75"/>
<rect x="583.77" y="243" width="2" height="0.9" fill="#f23645"/>
<line x1="587.58" y1="243.1" x2="587.58" y2="258.23" stroke="#f23645" stroke-width="0.55" opacity="0.75"/>
<rect x="586.58" y="243.9" width="2" height="12.2" fill="#f23645"/>
<line x1="590.4" y1="253.95" x2="590.4" y2="261.8" stroke="#f23645" stroke-width="0.55" opacity="0.75"/>
<rect x="589.4" y="256.1" width="2" height="1.6" fill="#f23645"/>
<line x1="593.21" y1="235" x2="593.21" y2="259.83" stroke="#089981" stroke-width="0.55" opacity="0.75"/>
<rect x="592.21" y="242.6" width="2" height="15.1" fill="#089981"/>
<line x1="596.02" y1="241.71" x2="596.02" y2="245.68" stroke="#f23645" stroke-width="0.55" opacity="0.75"/>
<rect x="595.02" y="242.6" width="2" height="2.1" fill="#f23645"/>
<line x1="598.83" y1="244.4" x2="598.83" y2="251.43" stroke="#f23645" stroke-width="0.55" opacity="0.75"/>
<rect x="597.83" y="244.7" width="2" height="5.7" fill="#f23645"/>
<line x1="601.64" y1="245.1" x2="601.64" y2="260" stroke="#089981" stroke-width="0.55" opacity="0.75"/>
<rect x="600.64" y="246.3" width="2" height="4.1" fill="#089981"/>
<line x1="604.46" y1="245.62" x2="604.46" y2="253.26" stroke="#f23645" stroke-width="0.55" opacity="0.75"/>
<rect x="603.46" y="246.3" width="2" height="5.7" fill="#f23645"/>
<line x1="607.27" y1="235" x2="607.27" y2="252.8" stroke="#089981" stroke-width="0.55" opacity="0.75"/>
<rect x="606.27" y="239.8" width="2" height="12.2" fill="#089981"/>
<line x1="610.08" y1="239.33" x2="610.08" y2="241.66" stroke="#f23645" stroke-width="0.55" opacity="0.75"/>
<rect x="609.08" y="239.8" width="2" height="0.8" fill="#f23645"/>
<line x1="612.89" y1="220.8" x2="612.89" y2="240.94" stroke="#089981" stroke-width="0.55" opacity="0.75"/>
<rect x="611.89" y="225.7" width="2" height="14.9" fill="#089981"/>
<line x1="615.7" y1="222" x2="615.7" y2="232.74" stroke="#f23645" stroke-width="0.55" opacity="0.75"/>
<rect x="614.7" y="225.7" width="2" height="6.3" fill="#f23645"/>
<line x1="618.52" y1="230.59" x2="618.52" y2="243.81" stroke="#f23645" stroke-width="0.55" opacity="0.75"/>
<rect x="617.52" y="232" width="2" height="10.5" fill="#f23645"/>
<line x1="621.33" y1="240.77" x2="621.33" y2="247.15" stroke="#f23645" stroke-width="0.55" opacity="0.75"/>
<rect x="620.33" y="242.5" width="2" height="3.1" fill="#f23645"/>
<line x1="624.14" y1="243.94" x2="624.14" y2="252.37" stroke="#f23645" stroke-width="0.55" opacity="0.75"/>
<rect x="623.14" y="245.6" width="2" height="4.8" fill="#f23645"/>
<line x1="626.95" y1="237.4" x2="626.95" y2="251.32" stroke="#089981" stroke-width="0.55" opacity="0.75"/>
<rect x="625.95" y="241.3" width="2" height="9.1" fill="#089981"/>
<line x1="629.76" y1="228.5" x2="629.76" y2="241.88" stroke="#089981" stroke-width="0.55" opacity="0.75"/>
<rect x="628.76" y="235.5" width="2" height="5.8" fill="#089981"/>
<line x1="632.58" y1="230" x2="632.58" y2="237.02" stroke="#089981" stroke-width="0.55" opacity="0.75"/>
<rect x="631.58" y="234" width="2" height="1.5" fill="#089981"/>
<line x1="635.39" y1="232.52" x2="635.39" y2="235.89" stroke="#089981" stroke-width="0.55" opacity="0.75"/>
<rect x="634.39" y="232.9" width="2" height="1.1" fill="#089981"/>
<line x1="638.2" y1="221.3" x2="638.2" y2="234.39" stroke="#089981" stroke-width="0.55" opacity="0.75"/>
<rect x="637.2" y="232" width="2" height="0.9" fill="#089981"/>
<line x1="641.01" y1="229.11" x2="641.01" y2="233.84" stroke="#089981" stroke-width="0.55" opacity="0.75"/>
<rect x="640.01" y="230.8" width="2" height="1.2" fill="#089981"/>
<line x1="643.82" y1="224.24" x2="643.82" y2="232.1" stroke="#089981" stroke-width="0.55" opacity="0.75"/>
<rect x="642.82" y="224.8" width="2" height="6" fill="#089981"/>
<line x1="646.64" y1="215.94" x2="646.64" y2="226.69" stroke="#089981" stroke-width="0.55" opacity="0.75"/>
<rect x="645.64" y="217.2" width="2" height="7.6" fill="#089981"/>
<line x1="649.45" y1="213.1" x2="649.45" y2="223.77" stroke="#f23645" stroke-width="0.55" opacity="0.75"/>
<rect x="648.45" y="217.2" width="2" height="4.7" fill="#f23645"/>
<line x1="652.26" y1="224" x2="652.26" y2="232.6" stroke="#f23645" stroke-width="0.55" opacity="0.75"/>
<rect x="651.26" y="221.9" width="2" height="8.7" fill="#f23645"/>
<line x1="655.07" y1="229" x2="655.07" y2="239.3" stroke="#f23645" stroke-width="0.55" opacity="0.75"/>
<rect x="654.07" y="230.6" width="2" height="4.9" fill="#f23645"/>
<line x1="657.88" y1="230" x2="657.88" y2="237" stroke="#089981" stroke-width="0.55" opacity="0.75"/>
<rect x="656.88" y="233.3" width="2" height="2.2" fill="#089981"/>
<text x="120.2" y="32" font-size="3.9" fill="#089981" text-anchor="middle" font-weight="normal" textLength="7.7" lengthAdjust="spacingAndGlyphs" opacity="0.8">BOS</text>
<text x="19.5" y="50.5" font-size="3.9" fill="#089981" text-anchor="middle" font-weight="normal" textLength="11.4" lengthAdjust="spacingAndGlyphs" opacity="0.8">CHoCH</text>
<text x="162.6" y="56.6" font-size="3.9" fill="#089981" text-anchor="middle" font-weight="normal" textLength="11.4" lengthAdjust="spacingAndGlyphs" opacity="0.8">CHoCH</text>
<text x="44.5" y="89.7" font-size="3.9" fill="#f23645" text-anchor="middle" font-weight="normal" textLength="11.4" lengthAdjust="spacingAndGlyphs" opacity="0.8">CHoCH</text>
<text x="193.8" y="101.8" font-size="3.9" fill="#f23645" text-anchor="middle" font-weight="normal" textLength="11.4" lengthAdjust="spacingAndGlyphs" opacity="0.8">CHoCH</text>
<text x="249.6" y="120.7" font-size="3.9" fill="#f23645" text-anchor="middle" font-weight="normal" textLength="7.7" lengthAdjust="spacingAndGlyphs" opacity="0.8">BOS</text>
<text x="291.8" y="137" font-size="3.9" fill="#f23645" text-anchor="middle" font-weight="normal" textLength="7.7" lengthAdjust="spacingAndGlyphs" opacity="0.8">BOS</text>
<text x="379" y="177.6" font-size="3.9" fill="#f23645" text-anchor="middle" font-weight="normal" textLength="7.7" lengthAdjust="spacingAndGlyphs" opacity="0.8">BOS</text>
<text x="423.7" y="156.4" font-size="3.9" fill="#f23645" text-anchor="middle" font-weight="normal" textLength="11.4" lengthAdjust="spacingAndGlyphs" opacity="0.8">CHoCH</text>
<text x="427.2" y="156.4" font-size="3.9" fill="#089981" text-anchor="middle" font-weight="normal" textLength="11.4" lengthAdjust="spacingAndGlyphs" opacity="0.8">CHoCH</text>
<text x="460.5" y="140.8" font-size="3.9" fill="#089981" text-anchor="middle" font-weight="normal" textLength="7.7" lengthAdjust="spacingAndGlyphs" opacity="0.8">BOS</text>
<text x="474.5" y="172.3" font-size="3.9" fill="#f23645" text-anchor="middle" font-weight="normal" textLength="11.4" lengthAdjust="spacingAndGlyphs" opacity="0.8">CHoCH</text>
<text x="424.2" y="206.1" font-size="4.8" fill="#f23645" text-anchor="middle" font-weight="normal" textLength="13.9" lengthAdjust="spacingAndGlyphs" opacity="0.8">CHoCH</text>
<text x="573.2" y="260" font-size="3.9" fill="#f23645" text-anchor="middle" font-weight="normal" textLength="7.7" lengthAdjust="spacingAndGlyphs" opacity="0.8">BOS</text>
<text x="590.3" y="227.6" font-size="3.9" fill="#089981" text-anchor="middle" font-weight="normal" textLength="11.4" lengthAdjust="spacingAndGlyphs" opacity="0.8">CHoCH</text>
<text x="629.2" y="216.2" font-size="3.9" fill="#089981" text-anchor="middle" font-weight="normal" textLength="7.7" lengthAdjust="spacingAndGlyphs" opacity="0.8">BOS</text>
<text x="716.6" y="129.5" font-size="3.3" fill="#f23645" text-anchor="middle" font-weight="normal" textLength="17.1" lengthAdjust="spacingAndGlyphs" opacity="0.85">Strong High</text>
<text x="716.4" y="278.6" font-size="3.3" fill="#089981" text-anchor="middle" font-weight="normal" textLength="15.4" lengthAdjust="spacingAndGlyphs" opacity="0.85">Weak Low</text>
<circle cx="660.7" cy="284.6" r="4.6" fill="#fff" stroke="#b160d4" stroke-width="1.1"/>
<path d="M662.0 281.7 L659.0 285.1 L660.6 285.1 L659.4 287.6 L662.5 284.0 L660.9 284.0 Z" fill="#a947cf"/>
<rect x="5" y="300.9" width="816.5" height="60.6" fill="#7e57c2" fill-opacity="0.1"/>
<line x1="4.9" y1="300.95" x2="821.5" y2="300.95" stroke="#787b86" stroke-width="0.85" stroke-dasharray="2.35 2.766" opacity="0.8"/>
<line x1="4.9" y1="331.2" x2="821.5" y2="331.2" stroke="#787b86" stroke-width="0.85" stroke-dasharray="2.35 2.766" opacity="0.45"/>
<line x1="4.9" y1="361.5" x2="821.5" y2="361.5" stroke="#787b86" stroke-width="0.85" stroke-dasharray="2.35 2.766" opacity="0.8"/>
<defs><linearGradient id="osg" x1="0" y1="0" x2="0" y2="1"><stop offset="0" stop-color="#ffffff" stop-opacity="0.6"/><stop offset="1" stop-color="#f59aa4" stop-opacity="1"/></linearGradient></defs>
<path d="M316 361.5 L317.6 362.9 L320.2 369.1 L324.2 372.2 L326.4 370.6 L329.1 361.8 L330 361.5 Z" fill="url(#osg)"/>
<path d="M520 361.5 L522.5 365.1 L525.3 371.3 L527.6 361.5 Z" fill="url(#osg)"/>
<path d="M527.6 361.5 L528 362.9 L531.3 368.4 L534.6 375.1 L536.8 382.4 L539.7 361.5 L540 361.5 Z" fill="url(#osg)"/>
<polyline points="4.9,313.2 13.3,319.8 22.1,325.4 33.1,328.7 43.1,326.5 53,323.6 61.9,325.8 70.7,329.3 81.8,337.5 95,342.6 108.3,342.6 119.3,339.7 132.6,330.9 143.6,324.2 152.5,322 161.3,324.2 170.1,329.8 176.8,332 184.5,330.9 189.4,326.5 196,319.8 202.7,316.5 210.4,316.5 215.9,318.3 221.5,324.2 228.1,333.1 234.7,340.4 241.3,344.1 249.1,341.9 260.1,339.7 271.2,336.8 280,339 291.1,343.5 299.9,346.3 311,351.4 319.8,354.5 328.6,359.6 335.2,361.1 344.1,358.9 351.8,356.7 359.5,350.1 368.4,344.1 378.8,339.7 389.9,339 400.9,341.3 409.8,341.3 420.8,343 431.9,341.3 440.7,337.5 449.5,332.4 458.4,328 467.2,324.9 476.1,318.7 482.7,316.5 488.2,318.3 493.7,322 502.6,325.8 510.3,329.8 518,337.5 525.8,347.4 533.5,354.1 542.3,358.5 551.2,360.7 557.8,363.4 565,362.5 572,359.5 580.2,354.2 589.3,354.7 595.4,352.7 602.9,351.2 609,349 615,344.7 621.1,342.6 625.6,340.3 631.6,336.9 637.7,333.8 643.7,330.1 649,327.5 654.3,328.5 660.1,327.5" fill="none" stroke="#f6db8c" stroke-width="1.3" stroke-linejoin="round" opacity="0.9"/>
<polyline points="4.9,330.9 7.7,343 10.6,346.3 13.3,338.6 16.6,332.4 19.4,336.8 22.1,332 24.7,321 27.6,324.2 29.8,325.8 33.1,314.7 35.8,317.6 38.7,312.1 41.5,302.8 44.2,325.8 46.8,329.3 51.9,329.3 54.8,333.1 58.6,345.7 61.4,340.4 64.1,345.2 66.7,328.7 70.3,335.3 72.9,340.8 75.6,348.6 78.4,342.6 81.3,343.5 84,339 86.6,349.7 89.5,348.1 92.4,349.2 95.4,344.8 98.3,337.5 101.2,336.4 103.8,339 108.3,340.8 111.6,336.4 114.5,332 117.1,334.2 120.4,324.2 123.7,318.3 127,316.5 130.4,318.7 132.6,320.9 134.8,320.5 137.4,314.7 140.3,316.1 143.2,313.9 145.8,323.1 148.5,323.1 151.3,324.9 154.2,339.7 156.9,342.6 159.5,335.3 162.4,352.3 165.3,349.2 168.4,348.5 171.2,335.3 174.1,325.8 176.8,325.8 179.4,311 182.3,304.4 185.6,301 188.3,299.9 193.4,296.2 196,312.1 198.7,308.1 200.9,312.1 204.4,341.9 207.1,347.9 210.4,336.4 213.3,335.3 215.9,340.8 220.4,348.5 224.3,353.6 228.1,347.9 232.5,340.4 235.8,345.2 238.5,347 241.3,339 245.8,334.2 247.3,330.9 249.7,324.9 252.4,326.5 255.3,332 258.4,340.8 261.2,343.5 264.5,339 269,336.4 272.3,349.7 275.1,357.4 277.8,349.2 280.4,354.1 283.3,347.9 286.2,349.2 288.8,341.3 291.7,337.5 294.4,344.1 298.8,350.8 301.7,356.3 304.3,360.7 307,358 309.8,360.3 312.7,363 315.4,360.7 317.6,362.9 320.2,369.1 324.2,372.2 326.4,370.6 329.1,361.8 331.9,358 334.1,359.6 337.5,347.9 340.3,344.1 344.1,345.2 348.5,347 351.2,356.7 354,339 356.9,331.5 359.5,334.2 362.9,342.6 365.7,343 368.4,339.7 370.6,338.6 373.3,331.5 376.2,332.4 378.8,331.5 381.5,337.5 384.4,339.7 387.7,345.2 390.3,350.1 393.2,344.1 396.1,348.5 398.7,350.8 401.4,339.7 405.4,337.5 409.3,336.8 412.4,341.3 416.4,341.9 419.7,342.6 424.1,338.6 427.4,338.2 429.7,341.9 432.5,333.7 435.8,338.2 439.6,328.7 442.9,322.7 446.2,318.3 449.1,307.7 451.8,307.7 455.1,323.1 458.4,325.8 462.4,328.7 465,327.6 469,324.2 471.6,307.7 474.5,299.9 477.8,308.8 480.5,310.3 483.8,313.2 487.1,322 489.3,330.9 491.5,346.3 494.2,341.9 497.7,340.8 502.1,341.9 505.4,351.9 508.1,344.1 511.4,337.5 514.7,338.6 516.9,354.1 519.8,356.3 522.5,365.1 525.3,371.3 528,362.9 531.3,368.4 534.6,375.1 536.8,382.4 539.7,358.5 543.4,356.3 546.8,356.7 551.2,359.6 555.2,362.5 558.3,354.2 561.8,350.2 565.1,352 567.8,352 570.4,354.2 574.9,355 577.2,352 579.5,350.5 582.5,350.8 584.8,352.3 587,356.5 590.1,355.8 593.1,342.6 595.4,343.7 598.4,348.2 601.4,343.7 604.1,347.1 606.7,335 609.3,336.1 612.3,322 615,327.8 618,336.1 621.1,339.1 623.8,342.9 626.3,335.4 629.4,329.6 633.1,327.8 636.9,326.3 640.7,324.5 643.4,318.7 646.4,312.4 649.5,318 652,328.5 654.6,333.5 657.3,331.6 660.4,331.6" fill="none" stroke="#9a82d8" stroke-width="1.0" stroke-linejoin="round" opacity="1"/>
<text x="825.7" y="40.6" font-size="5.1" fill="#131722" text-anchor="start" font-weight="normal">124.000,00</text>
<text x="825.7" y="55.1" font-size="5.1" fill="#131722" text-anchor="start" font-weight="normal">120.000,00</text>
<text x="825.7" y="69.6" font-size="5.1" fill="#131722" text-anchor="start" font-weight="normal">116.000,00</text>
<text x="825.7" y="84.1" font-size="5.1" fill="#131722" text-anchor="start" font-weight="normal">112.000,00</text>
<text x="825.7" y="98.6" font-size="5.1" fill="#131722" text-anchor="start" font-weight="normal">108.000,00</text>
<text x="825.7" y="113.1" font-size="5.1" fill="#131722" text-anchor="start" font-weight="normal">104.000,00</text>
<text x="825.7" y="127.6" font-size="5.1" fill="#131722" text-anchor="start" font-weight="normal">100.000,00</text>
<text x="825.7" y="142.1" font-size="5.1" fill="#131722" text-anchor="start" font-weight="normal">96.000,00</text>
<text x="825.7" y="156.6" font-size="5.1" fill="#131722" text-anchor="start" font-weight="normal">92.000,00</text>
<text x="825.7" y="171.1" font-size="5.1" fill="#131722" text-anchor="start" font-weight="normal">88.000,00</text>
<text x="825.7" y="185.6" font-size="5.1" fill="#131722" text-anchor="start" font-weight="normal">84.000,00</text>
<text x="825.7" y="200.1" font-size="5.1" fill="#131722" text-anchor="start" font-weight="normal">80.000,00</text>
<text x="825.7" y="214.6" font-size="5.1" fill="#131722" text-anchor="start" font-weight="normal">76.000,00</text>
<text x="825.7" y="258.1" font-size="5.1" fill="#131722" text-anchor="start" font-weight="normal">64.000,00</text>
<text x="825.7" y="287.3" font-size="5.1" fill="#131722" text-anchor="start" font-weight="normal">56.000,00</text>
<text x="825.7" y="274.8" font-size="5.1" fill="#131722" text-anchor="start" font-weight="normal">59.622,79</text>
<rect x="823.4" y="14.4" width="29.8" height="12" rx="1.5" fill="#fff" stroke="#eceef2" stroke-width="0.5"/>
<text x="827.6" y="22.8" font-size="5.6" fill="#131722" text-anchor="start" font-weight="normal" textLength="13.2" lengthAdjust="spacingAndGlyphs">USDT</text>
<rect x="822.1" y="222.9" width="28.5" height="6.8" rx="0.8" fill="#089981"/>
<text x="826" y="228.2" font-size="5.1" fill="#fff" text-anchor="start" font-weight="bold" textLength="22.7" lengthAdjust="spacingAndGlyphs">70.442,47</text>
<rect x="822.1" y="229.9" width="28.5" height="13.7" rx="0.8" fill="#f23645"/>
<text x="826" y="235.4" font-size="5.1" fill="#fff" text-anchor="start" font-weight="bold" textLength="22.7" lengthAdjust="spacingAndGlyphs">70.442,47</text>
<text x="826" y="241.4" font-size="5.1" fill="#fff" text-anchor="start" font-weight="normal" textLength="19.6" lengthAdjust="spacingAndGlyphs">21:53:55</text>
<rect x="797.2" y="229.9" width="24.1" height="7.5" rx="0.8" fill="#f23645"/>
<text x="809.1" y="235.6" font-size="4.6" fill="#fff" text-anchor="middle" font-weight="bold" textLength="20.6" lengthAdjust="spacingAndGlyphs">BTCUSDT</text>
<text x="825.8" y="302" font-size="5.1" fill="#131722" text-anchor="start" font-weight="normal">70,00</text>
<text x="825.8" y="316.8" font-size="5.1" fill="#131722" text-anchor="start" font-weight="normal">60,00</text>
<text x="825.8" y="347.5" font-size="5.1" fill="#131722" text-anchor="start" font-weight="normal">40,00</text>
<text x="825.8" y="362.8" font-size="5.1" fill="#131722" text-anchor="start" font-weight="normal">30,00</text>
<text x="825.8" y="378.2" font-size="5.1" fill="#131722" text-anchor="start" font-weight="normal">20,00</text>
<rect x="821.9" y="320.7" width="18.7" height="7.6" rx="0.6" fill="#fdd835"/>
<text x="824.2" y="326.3" font-size="4.7" fill="#131722" text-anchor="start" font-weight="normal">52,15</text>
<rect x="821.9" y="328.3" width="18.7" height="7.2" rx="0.6" fill="#7e57c2"/>
<text x="824.2" y="333.7" font-size="4.7" fill="#fff" text-anchor="start" font-weight="normal">49,59</text>
<clipPath id="tclip"><rect x="5" y="386" width="850" height="14"/></clipPath>
<g clip-path="url(#tclip)">
<text x="8.31" y="396.5" font-size="5.0" fill="#131722" text-anchor="middle" font-weight="normal">Ago</text>
<text x="95.48" y="396.5" font-size="5.0" fill="#131722" text-anchor="middle" font-weight="normal">Sep</text>
<text x="179.84" y="396.5" font-size="5.0" fill="#131722" text-anchor="middle" font-weight="normal">Oct</text>
<text x="267.02" y="396.5" font-size="5.0" fill="#131722" text-anchor="middle" font-weight="normal">Nov</text>
<text x="351.38" y="396.5" font-size="5.0" fill="#131722" text-anchor="middle" font-weight="normal">Dic</text>
<text x="438.55" y="396.5" font-size="5.0" fill="#131722" text-anchor="middle" font-weight="bold">2026</text>
<text x="525.72" y="396.5" font-size="5.0" fill="#131722" text-anchor="middle" font-weight="normal">Feb</text>
<text x="604.46" y="396.5" font-size="5.0" fill="#131722" text-anchor="middle" font-weight="normal">Mar</text>
<text x="691.63" y="396.5" font-size="5.0" fill="#131722" text-anchor="middle" font-weight="normal">Abr</text>
<text x="775.99" y="396.5" font-size="5.0" fill="#131722" text-anchor="middle" font-weight="normal">Mayo</text>
</g>
<text x="4.6" y="8.8" font-size="6.0" fill="#131722" stroke="#131722" stroke-width="0.12" textLength="169" lengthAdjust="spacingAndGlyphs">IsaiAlexei creado con TradingView.com, el Mar 20, 2026 22:06 UTC-4</text>
<text x="8.3" y="21.8" font-size="6.4" fill="#3b3f4a" textLength="82.7" lengthAdjust="spacingAndGlyphs">Bitcoin / TetherUS · 1D · Binance</text>
<text x="95.5" y="21.8" font-size="6.4" fill="#3b3f4a" textLength="3.6" lengthAdjust="spacingAndGlyphs">O</text>
<text x="99.6" y="21.8" font-size="6.4" fill="#f23645" textLength="24.6" lengthAdjust="spacingAndGlyphs">70.510,73</text>
<text x="126.9" y="21.8" font-size="6.4" fill="#3b3f4a" textLength="4.1" lengthAdjust="spacingAndGlyphs">H</text>
<text x="131.6" y="21.8" font-size="6.4" fill="#f23645" textLength="24.6" lengthAdjust="spacingAndGlyphs">70.826,00</text>
<text x="159.3" y="21.8" font-size="6.4" fill="#3b3f4a" textLength="3.1" lengthAdjust="spacingAndGlyphs">L</text>
<text x="162.9" y="21.8" font-size="6.4" fill="#f23645" textLength="24.6" lengthAdjust="spacingAndGlyphs">70.431,67</text>
<text x="189.7" y="21.8" font-size="6.4" fill="#3b3f4a" textLength="3.7" lengthAdjust="spacingAndGlyphs">C</text>
<text x="193.9" y="21.8" font-size="6.4" fill="#f23645" textLength="24.6" lengthAdjust="spacingAndGlyphs">70.442,47</text>
<text x="221.3" y="21.8" font-size="6.4" fill="#f23645" textLength="39.6" lengthAdjust="spacingAndGlyphs">−68,26 (−0,10%)</text>
<text x="264.8" y="21.8" font-size="6.4" fill="#3b3f4a" textLength="9.4" lengthAdjust="spacingAndGlyphs">Vol.</text>
<text x="274.9" y="21.8" font-size="6.4" fill="#f23645" textLength="16.3" lengthAdjust="spacingAndGlyphs">736,04</text>
<text x="294.9" y="21.8" font-size="6.4" fill="#f23645" textLength="39.5" lengthAdjust="spacingAndGlyphs">−65,73 (−0,09%)</text>
<g fill="#131722"><path d="M5.7 412.2 H10.8 V418.7 H8.0 V414.3 H5.7 Z"/><circle cx="13.4" cy="413.3" r="1.05"/><path d="M15.6 412.2 H19.1 L16.9 418.7 H13.6 Z"/></g>
<text x="23.3" y="418.9" font-size="9.3" fill="#131722" stroke="#131722" stroke-width="0.35" textLength="56.2" lengthAdjust="spacingAndGlyphs">TradingView</text>
</svg>
<div style="position:absolute;left:0;top:0;width:860px;height:430px;pointer-events:none">
</div>
</body></html>
